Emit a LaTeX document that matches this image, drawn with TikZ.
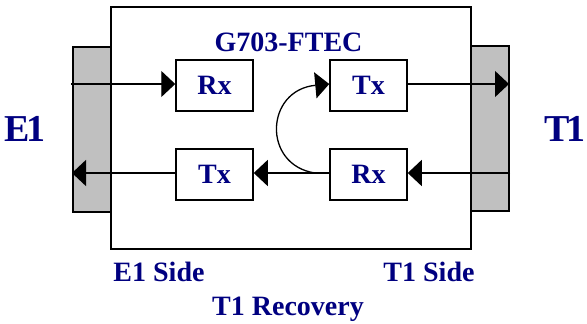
\documentclass[tikz,border=0pt]{standalone}
\usepackage{fontspec}
\setmainfont{Liberation Serif}
\usetikzlibrary{arrows.meta}
\definecolor{labelnavy}{RGB}{0,0,128}
\definecolor{portgray}{RGB}{192,192,192}
\tikzset{
  unit/.style={rectangle,draw=black,line width=1.5pt,fill=white,minimum width=77pt,
               minimum height=51pt,inner sep=0pt,text=labelnavy,
               font=\fontsize{28}{30}\selectfont\bfseries},
  port/.style={rectangle,draw=black,line width=1.3pt,fill=portgray,
               minimum width=38pt,minimum height=165pt,inner sep=0pt},
  card/.style={rectangle,draw=black,line width=1.5pt,minimum width=360pt,
               minimum height=242pt,inner sep=0pt},
  lbl/.style={text=labelnavy,inner sep=0pt,font=\fontsize{28}{30}\selectfont\bfseries},
  big/.style={lbl,font=\fontsize{38}{40}\selectfont\bfseries},
  fl/.style={-{Triangle[length=14pt,width=26pt]},draw=black,line width=1.3pt},
}
\begin{document}
\begin{tikzpicture}[x=1pt,y=-1pt]
  \useasboundingbox (0,0) rectangle (587,324);
  % line ports on both sides of the card
  \node[port] (lbar) at (92,129.5) {};
  \node[port] (rbar) at (490,128.5) {};
  \node[card] (card) at (291,128) {};
  \node[lbl] (title) at (288.5,42) {G703-FTEC};
  \node[unit] (rxE) at (214.5,85.5) {Rx};
  \node[unit] (txE) at (214.5,174.5) {Tx};
  \node[unit] (txT) at (368.5,85.5) {Tx};
  \node[unit] (rxT) at (368.5,174.5) {Rx};
  \node[big] (e1) at (25,129) {E\kern-4pt1};
  \node[big] (t1) at (565,129) {T\kern-3pt1};
  \node[lbl] (e1side) at (159,272) {E1 Side};
  \node[lbl] (t1side) at (429,272) {T1 Side};
  \node[lbl] (recov) at (288,309) {T1 Recovery};
  \coordinate (e1in) at (71,84);
  \coordinate (e1out) at (72,173);
  \coordinate (t1out) at (509,84);
  \coordinate (t1in) at (510,173);
  \coordinate (loop) at (315,173);
  % E1 side
  \draw[fl] (e1in) -- (rxE.west |- e1in);
  \draw[fl] (txE.west |- e1out) -- (e1out);
  % T1 side
  \draw[fl] (txT.east |- t1out) -- (t1out);
  \draw[fl] (t1in) -- (rxT.east |- t1in);
  \draw[fl] (rxT.west |- loop) -- (txE.east |- loop);
  % recovered clock looped back into the T1 transmitter
  \draw[fl] (loop) .. controls (262,165) and (265,90) .. (txT.west |- t1out);
\end{tikzpicture}
\end{document}
